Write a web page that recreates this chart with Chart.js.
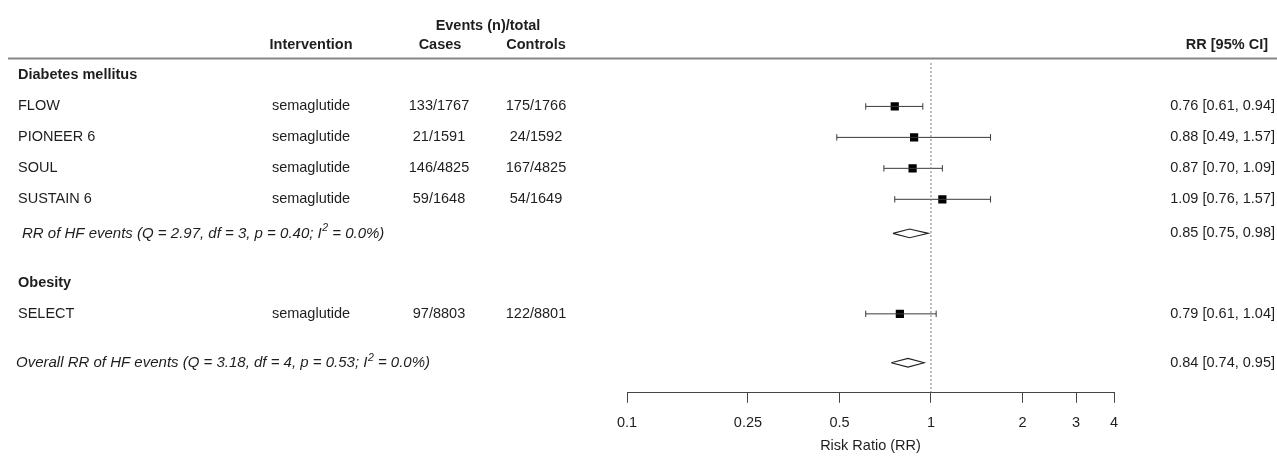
<!DOCTYPE html>
<html>
<head>
<meta charset="utf-8">
<script src="https://cdn.jsdelivr.net/npm/chart.js@4/dist/chart.umd.min.js"></script>
<style>
  html, body { margin: 0; padding: 0; background: #ffffff; }
  #wrap { width: 1277px; height: 462px; position: relative; }
</style>
</head>
<body>
<div id="wrap"><canvas id="c"></canvas></div>
<script>
// ---------------- data ----------------
const groups = ['Diabetes mellitus', 'Obesity'];
const studies = ['FLOW', 'PIONEER 6', 'SOUL', 'SUSTAIN 6', 'SELECT'];
const interventions = ['semaglutide', 'semaglutide', 'semaglutide', 'semaglutide', 'semaglutide'];
const casesEvents = ['133/1767', '21/1591', '146/4825', '59/1648', '97/8803'];
const controlsEvents = ['175/1766', '24/1592', '167/4825', '54/1649', '122/8801'];
const rrEst = [0.76, 0.88, 0.87, 1.09, 0.79];
const rrLow = [0.61, 0.49, 0.70, 0.76, 0.61];
const rrHigh = [0.94, 1.57, 1.09, 1.57, 1.04];
const pooledLabels = ['RR of HF events (Q = 2.97, df = 3, p = 0.40; I', 'Overall RR of HF events (Q = 3.18, df = 4, p = 0.53; I'];
const pooledLabelTail = [' = 0.0%)', ' = 0.0%)'];
const pooledEst = [0.85, 0.84];
const pooledLow = [0.75, 0.74];
const pooledHigh = [0.98, 0.95];
const xTicks = [0.1, 0.25, 0.5, 1, 2, 3, 4];

// ---------------- layout (row positions, in row units) ----------------
const rowEventsHdr = 0.4, rowHdr = 1.0, rowHdrLine = 1.45;
const groupRows = [2, 8.7];
const studyRows = [3, 4, 5, 6, 9.7];
const pooledRows = [7.1, 11.28];
const refLineTop = 1.6, yMin = -0.25, yMax = 12.25;
const diamondHalf = 0.14;

const FONT = '"Liberation Sans", Arial, Helvetica, sans-serif';
const FS = 14.5;
const FS_IT = 15;
const TXT = '#1e1e1e';
const fmt = v => v.toFixed(2);

// ---------------- datasets ----------------
const datasets = [];
datasets.push({
  data: [{x: 1, y: refLineTop}, {x: 1, y: yMax}],
  showLine: true, borderColor: '#777', borderWidth: 1, borderDash: [2, 2],
  pointRadius: 0
});
studies.forEach((s, i) => {
  datasets.push({
    data: [{x: rrLow[i], y: studyRows[i]}, {x: rrHigh[i], y: studyRows[i]}],
    showLine: true, borderColor: '#3a3a3a', borderWidth: 1,
    pointStyle: 'line', rotation: 90, pointRadius: 3.2,
    pointBorderColor: '#3a3a3a', pointBorderWidth: 1, pointBackgroundColor: '#3a3a3a'
  });
});
datasets.push({
  data: studies.map((s, i) => ({x: rrEst[i], y: studyRows[i]})),
  pointStyle: 'rect', pointRadius: 5.8,
  pointBackgroundColor: '#000', pointBorderColor: '#000', pointBorderWidth: 0
});
pooledEst.forEach((e, i) => {
  const r = pooledRows[i];
  datasets.push({
    data: [{x: pooledLow[i], y: r}, {x: e, y: r - diamondHalf}, {x: pooledHigh[i], y: r},
           {x: e, y: r + diamondHalf}, {x: pooledLow[i], y: r}],
    showLine: true, borderColor: '#222', borderWidth: 1.1, backgroundColor: '#fff',
    fill: false, tension: 0, pointRadius: 0
  });
});

// ---------------- text plugin ----------------
const textPlugin = {
  id: 'forestText',
  afterDraw(chart) {
    const ctx = chart.ctx, ys = chart.scales.y;
    const py = r => ys.getPixelForValue(r);
    const put = (s, x, r, align, weight, style, size) => {
      ctx.save();
      ctx.font = `${style || 'normal'} ${weight || 'normal'} ${size || FS}px ${FONT}`;
      ctx.fillStyle = TXT;
      ctx.textAlign = align || 'left';
      ctx.textBaseline = 'middle';
      ctx.fillText(s, x, py(r));
      const w = ctx.measureText(s).width;
      ctx.restore();
      return w;
    };
    // headers
    put('Events (n)/total', 488, rowEventsHdr, 'center', 'bold');
    put('Intervention', 311, rowHdr, 'center', 'bold');
    put('Cases', 440, rowHdr, 'center', 'bold');
    put('Controls', 536, rowHdr, 'center', 'bold');
    put('RR [95% CI]', 1268, rowHdr, 'right', 'bold');
    ctx.save();
    ctx.strokeStyle = '#858585';
    ctx.lineWidth = 2;
    ctx.beginPath();
    ctx.moveTo(8, py(rowHdrLine));
    ctx.lineTo(1277, py(rowHdrLine));
    ctx.stroke();
    ctx.restore();
    // groups
    groups.forEach((g, i) => put(g, 18, groupRows[i], 'left', 'bold'));
    // studies
    studies.forEach((s, i) => {
      const r = studyRows[i];
      put(s, 18, r, 'left');
      put(interventions[i], 311, r, 'center');
      put(casesEvents[i], 439, r, 'center');
      put(controlsEvents[i], 536, r, 'center');
      put(`${fmt(rrEst[i])} [${fmt(rrLow[i])}, ${fmt(rrHigh[i])}]`, 1275, r, 'right');
    });
    // pooled rows
    const px0 = [22, 16];
    pooledLabels.forEach((lab, i) => {
      const r = pooledRows[i];
      let x = px0[i];
      x += put(lab, x, r, 'left', 'normal', 'italic', FS_IT);
      x += 0.5;
      ctx.save();
      ctx.font = `italic normal 10.5px ${FONT}`;
      ctx.fillStyle = TXT;
      ctx.textBaseline = 'middle';
      ctx.fillText('2', x, py(r) - 5);
      const w2 = ctx.measureText('2').width;
      ctx.restore();
      x += w2;
      put(pooledLabelTail[i], x, r, 'left', 'normal', 'italic', FS_IT);
      put(`${fmt(pooledEst[i])} [${fmt(pooledLow[i])}, ${fmt(pooledHigh[i])}]`, 1275, r, 'right');
    });
  }
};

// ---------------- chart ----------------
new Chart(document.getElementById('c'), {
  type: 'scatter',
  data: { datasets },
  options: {
    responsive: true,
    maintainAspectRatio: false,
    animation: false,
    layout: { padding: { left: 627, right: 163, top: 0, bottom: 3 } },
    plugins: { legend: { display: false }, tooltip: { enabled: false } },
    scales: {
      x: {
        type: 'logarithmic',
        min: 0.1, max: 4,
        afterBuildTicks: sc => { sc.ticks = xTicks.map(v => ({ value: v })); },
        ticks: {
          autoSkip: false, maxRotation: 0, padding: 11.7,
          color: TXT, font: { family: FONT, size: FS },
          callback: v => String(v)
        },
        grid: { display: true, drawOnChartArea: false, drawTicks: true, tickLength: 10, color: '#444', lineWidth: 1 },
        border: { display: true, color: '#444', width: 1 },
        title: {
          display: true, text: 'Risk Ratio (RR)', color: TXT,
          font: { family: FONT, size: FS }, padding: { top: -6, bottom: 4 }
        }
      },
      y: {
        type: 'linear', display: false, reverse: true,
        min: yMin, max: yMax
      }
    }
  },
  plugins: [textPlugin]
});
</script>
</body>
</html>
